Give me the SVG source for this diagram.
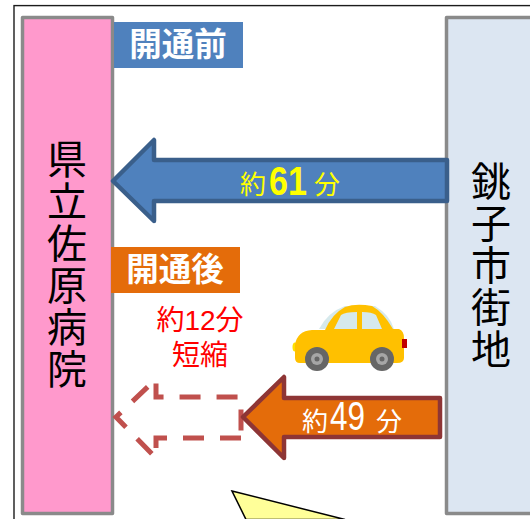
<svg xmlns="http://www.w3.org/2000/svg" width="530" height="519" viewBox="0 0 530 519">
<style>
.jp{font-family:"Noto Sans CJK JP","Liberation Sans",sans-serif}
.box{stroke:#8a8a8a;stroke-width:3.5;stroke-linejoin:round}
.vt{font-size:40px;fill:#000;text-anchor:middle}
.tag{font-size:32.5px;font-weight:700;fill:#fff;text-anchor:middle}
.ar{stroke-width:4.5;stroke-linejoin:round}
.num{font-family:"Liberation Sans",Arial,sans-serif;font-size:41px}
.red{font-family:"Liberation Sans","Noto Sans CJK JP",sans-serif;font-size:28px;fill:#ff0000;text-anchor:middle}
</style>
<rect width="530" height="519" fill="#fff"/>
<g id="frame"><rect x="14" y="5.6" width="620" height="620" fill="#fff" stroke="#1c1c1c" stroke-width="1.4"/></g>
<g id="callout"><path d="M232 491L345 519.5H246Z" fill="#ffff99" stroke="#000" stroke-width="1.5"/></g>
<g id="hospital"><rect class="box" x="22.5" y="17.5" width="90" height="496" fill="#ff99cc"/>
<text class="jp vt" x="67 67 67 67 67 67" y="174 216 258 300 342 384">県立佐原病院</text></g>
<g id="choshi"><rect class="box" x="446.5" y="17.5" width="120" height="496" fill="#dce6f2"/>
<text class="jp vt" x="491 491 491 491 491" y="196 238 280 322 364">銚子市街地</text></g>
<g id="before"><rect x="114" y="22" width="129" height="46" fill="#4f81bd"/><text class="jp tag" x="178" y="56">開通前</text></g>
<g id="after"><rect x="111" y="247" width="129" height="46" fill="#e46c0a"/><text class="jp tag" x="175" y="281">開通後</text></g>
<g id="connectors">
<path class="ar" d="M113 181L154 140V160H447V201H154V221Z" fill="#4f81bd" stroke="#3a5f8b"/>
<path d="M241 438H156V458L116 417L156 379V397H241Z" fill="none" stroke="#c0504d" stroke-width="5" stroke-dasharray="21 16"/>
<path class="ar" d="M243 417L284 377V398H440V437H284V458Z" fill="#e46c0a" stroke="#8e3535"/>
</g>
<g id="label61" fill="#ffff00"><text class="jp" font-size="26" x="240" y="194">約</text><text class="num" font-weight="700" x="269" y="195" textLength="38" lengthAdjust="spacingAndGlyphs">61</text><text class="jp" font-size="26" x="314" y="194">分</text></g>
<g id="label49" fill="#fff"><text class="jp" font-size="26" x="302" y="431">約</text><text class="num" x="330" y="430" textLength="35" lengthAdjust="spacingAndGlyphs">49</text><text class="jp" font-size="26" x="376" y="431">分</text></g>
<g id="saving"><text class="red" x="200" y="330">約12分</text><text class="red" x="200" y="365">短縮</text></g>
<g id="car">
<path d="M319 329Q328 312 345 306H375Q390 315 394 329Z" fill="#d6e9ec"/>
<ellipse cx="295" cy="347" rx="2.5" ry="4.5" fill="#ffe000"/>
<path d="M295 358V345Q297 331 312 330H325Q332 314 345 307Q356 303 372 306Q383 312 393 329H399Q404 331 404 338V358Q404 363 397 363H300Q295 363 295 358Z" fill="#ffc000"/>
<path d="M334 329L341 315Q345 312 357 312V329Z M362 312Q372 312 376 315L382 329H362Z" fill="#d6e9ec"/>
<rect x="402" y="339" width="5" height="9" fill="#c00000"/>
<g fill="#666"><circle cx="317" cy="359" r="12"/><circle cx="382" cy="359" r="12"/></g>
<g fill="#a6a6a6"><circle cx="317" cy="359" r="6"/><circle cx="382" cy="359" r="6"/></g>
<g fill="#666"><circle cx="317" cy="359" r="2.5"/><circle cx="382" cy="359" r="2.5"/></g>
</g>
</svg>
